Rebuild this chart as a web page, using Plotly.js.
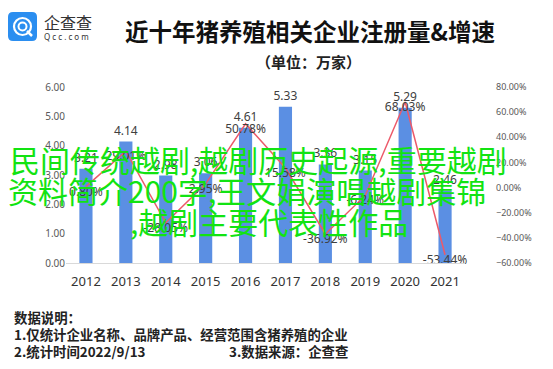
<!DOCTYPE html>
<html>
<head>
<meta charset="utf-8">
<script src="https://cdn.plot.ly/plotly-3.0.1.min.js"></script>
<style>html,body{margin:0;padding:0;background:#fff;}#chart{width:553px;height:369px;}</style>
</head>
<body>
<div id="chart"></div>
<script>
// ---- data ----
const years = ['2012','2013','2014','2015','2016','2017','2018','2019','2020','2021'];
const counts = [3.21, 4.14, 2.98, 3.06, 4.61, 5.33, 3.36, 3.15, 5.29, 2.46];
const growth = [0.80, 29.01, -28.05, 2.95, 50.78, 15.58, -36.92, -6.24, 68.03, -53.44];
const countLabels = counts.map(v => v.toFixed(2));
const growthLabels = growth.map(v => v.toFixed(2) + '%');
const titleText = '近十年猪养殖相关企业注册量&增速';
const subtitleText = '（单位：万家）';
const noteLines = ['数据说明：', '1.仅统计企业名称、品牌产品、经营范围含猪养殖的企业', '2.统计时间2022/9/13', '3.数据来源：企查查'];
const overlayLines = ['民间传统越剧,越剧历史起源,重要越剧', '资料简介200字,王文娟演唱越剧集锦', ',越剧主要代表性作品'];

// ---- geometry helpers (pixel -> paper) ----
const W = 553, H = 369, ML = 66, MR = 8, MT = 87, MB = 106;
const PW = W - ML - MR, PH = H - MT - MB;
const PX = x => (x - ML) / PW;
const PY = y => 1 - (y - MT) / PH;

const CJK = '"Noto Sans CJK SC", "Noto Sans", sans-serif';
const SANS = '"Noto Sans", "Liberation Sans", sans-serif';

const traces = [
  {
    type: 'bar', x: years, y: counts, width: 0.33,
    marker: {color: '#5b8fe3'},
    text: countLabels, textposition: 'outside', cliponaxis: false, constraintext: 'none',
    textfont: {family: SANS, size: 12, color: '#404040'},
    hoverinfo: 'skip'
  },
  {
    type: 'scatter', mode: 'lines+text', x: years, y: growth, yaxis: 'y2',
    line: {color: '#ec5a6a', width: 1.5},
    text: growthLabels, textposition: 'bottom center', cliponaxis: false,
    textfont: {family: SANS, size: 12, color: '#404040'},
    hoverinfo: 'skip'
  }
];

function ann(text, x, y, size, opts) {
  return Object.assign({
    text: text, xref: 'paper', yref: 'paper', x: PX(x), y: PY(y),
    xanchor: 'left', yanchor: 'middle', showarrow: false,
    font: {family: CJK, size: size, color: '#222'}
  }, opts || {});
}

const GREEN = {family: CJK, size: 30, color: '#12e312'};
const annotations = [
  ann('<b>' + subtitleText + '</b>', 308, 61, 15, {xanchor: 'center', font: {family: CJK, size: 15, color: '#222'}}),
  ann('企查查', 42, 22, 16, {font: {family: CJK, size: 16, color: '#333'}}),
  ann('Q c c . c o m', 42, 37, 8, {font: {family: SANS, size: 8, color: '#333'}}),
  ann('<b>' + noteLines[0] + '</b>', 12, 317, 13.4),
  ann('<b>' + noteLines[1] + '</b>', 12, 334, 13.4),
  ann('<b>' + noteLines[2] + '</b>', 12, 351, 13.4),
  ann('<b>' + noteLines[3] + '</b>', 227, 351, 13.4),
  ann(overlayLines[0], 258, 159, 30, {xanchor: 'center', font: GREEN}),
  ann(overlayLines[1], 247, 190, 30, {xanchor: 'center', font: GREEN}),
  ann(overlayLines[2], 269, 221, 30, {xanchor: 'center', font: GREEN})
];

// logo shapes
function rrect(x0, y0, x1, y1, r) {
  const p = (x, y) => PX(x) + ',' + PY(y);
  return 'M' + p(x0 + r, y0) + ' L' + p(x1 - r, y0) + ' Q' + p(x1, y0) + ' ' + p(x1, y0 + r) +
    ' L' + p(x1, y1 - r) + ' Q' + p(x1, y1) + ' ' + p(x1 - r, y1) +
    ' L' + p(x0 + r, y1) + ' Q' + p(x0, y1) + ' ' + p(x0, y1 - r) +
    ' L' + p(x0, y0 + r) + ' Q' + p(x0, y0) + ' ' + p(x0 + r, y0) + ' Z';
}
const shapes = [
  {type: 'path', xref: 'paper', yref: 'paper', path: rrect(8, 12, 37, 41, 5), fillcolor: '#2b8ef0', line: {width: 0}},
  {type: 'circle', xref: 'paper', yref: 'paper', x0: PX(14), x1: PX(31), y0: PY(35), y1: PY(18), line: {color: '#fff', width: 2.2}},
  {type: 'circle', xref: 'paper', yref: 'paper', x0: PX(18.5), x1: PX(26.5), y0: PY(30.5), y1: PY(22.5), line: {color: '#fff', width: 2}},
  {type: 'path', xref: 'paper', yref: 'paper', path: 'M' + PX(27) + ',' + PY(31) + ' L' + PX(32) + ',' + PY(36), line: {color: '#fff', width: 2.5}}
];

const layout = {
  width: W, height: H,
  margin: {l: ML, r: MR, t: MT, b: MB, pad: 0},
  paper_bgcolor: '#fff', plot_bgcolor: '#fff',
  showlegend: false,
  title: {
    text: '<b>' + titleText + '</b>', xref: 'container', yref: 'container',
    x: 310 / W, y: 1 - 33 / H, xanchor: 'center', yanchor: 'middle',
    font: {family: CJK, size: 23.5, color: '#111'}
  },
  xaxis: {
    type: 'category', domain: [0, 399 / PW], showline: true, linecolor: '#d9d9d9', linewidth: 1,
    ticks: '', showgrid: false, zeroline: false, ticklabelstandoff: 6,
    tickfont: {family: SANS, size: 13, color: '#333'}, fixedrange: true
  },
  yaxis: {
    range: [0, 6], dtick: 1, tickformat: '.2f', showgrid: false, zeroline: false, showline: false,
    ticks: '', tickfont: {family: SANS, size: 10, color: '#595959'}, fixedrange: true
  },
  yaxis2: {
    range: [-60, 80], dtick: 20, tickformat: '.2f', ticksuffix: '%', overlaying: 'y', side: 'right',
    anchor: 'free', position: PX(495), showgrid: false, zeroline: false, showline: false, ticks: '',
    tickfont: {family: SANS, size: 9, color: '#595959'}, fixedrange: true
  },
  annotations: annotations,
  shapes: shapes
};

Plotly.newPlot('chart', traces, layout, {displayModeBar: false, staticPlot: true});
</script>
</body>
</html>
